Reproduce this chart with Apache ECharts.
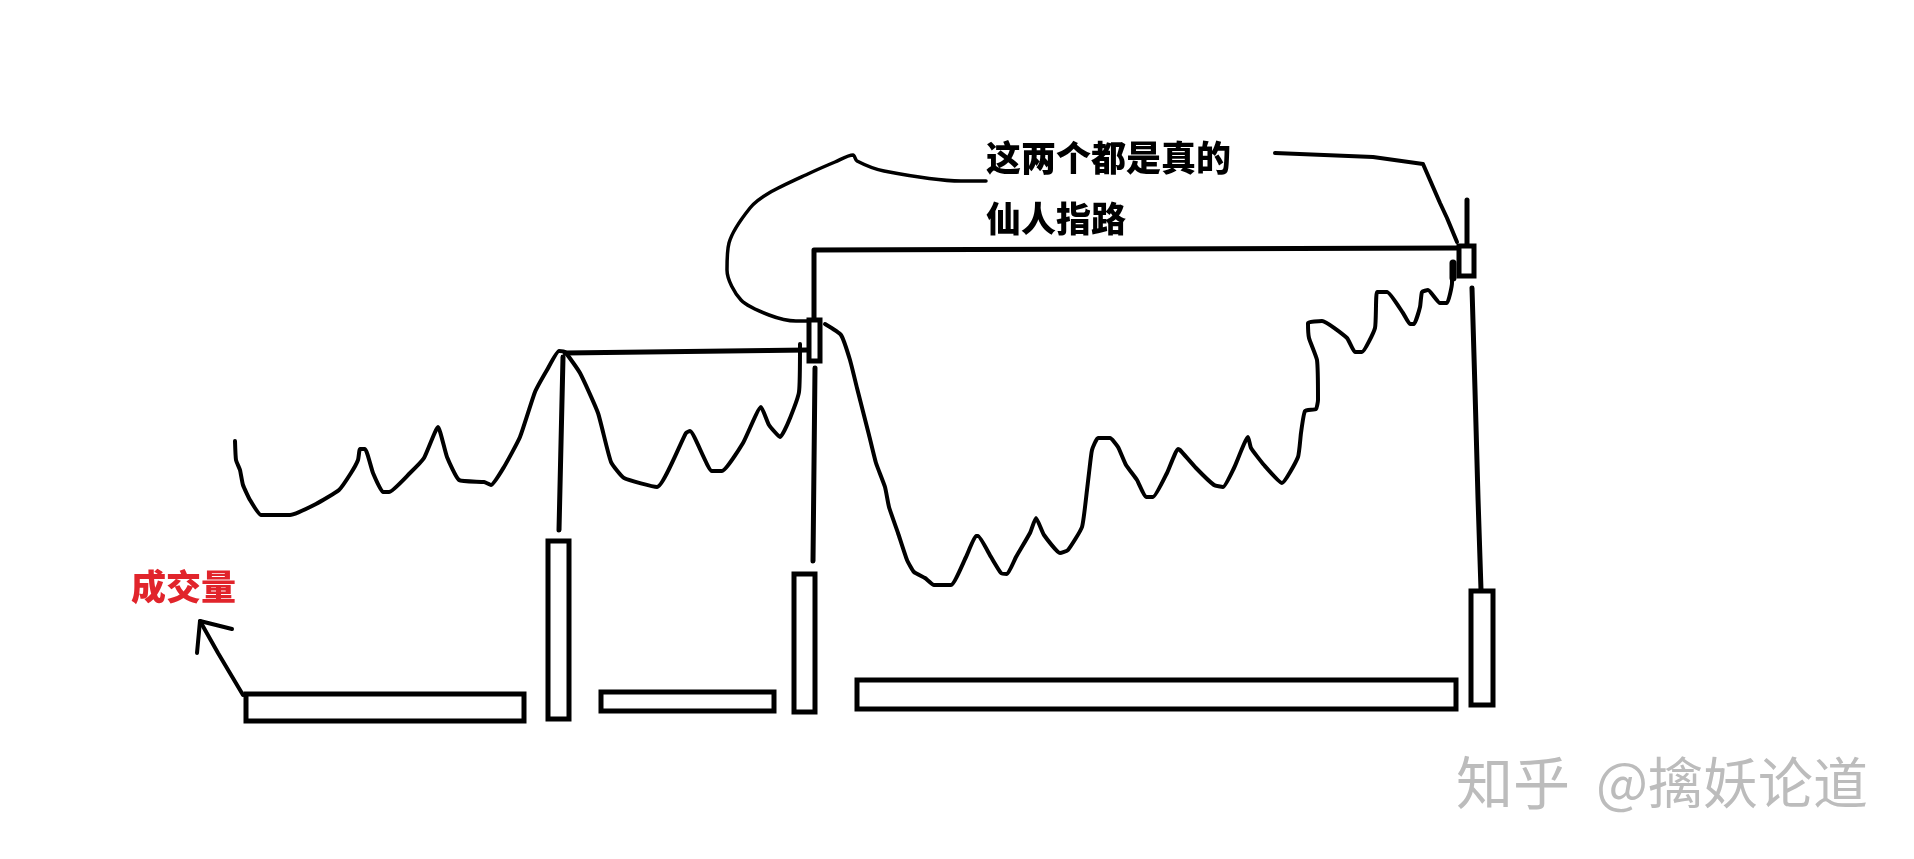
<!DOCTYPE html>
<html>
<head>
<meta charset="utf-8">
<title>仙人指路</title>
<style>
html, body { margin: 0; padding: 0; background: #fff; }
#main { width: 1914px; height: 859px; }
</style>
<script src="https://cdn.jsdelivr.net/npm/echarts@6/dist/echarts.min.js"></script>
</head>
<body>
<div id="main"></div>
<script>
// everything, axis units = sketch pixels
var priceLeft = [[235,441],[236,460],[240,470],[243,485],[250,500],[261,515],[290,515],[316,504],[339,490],[351,473],[358,460],[360,449],[365,449],[373,473],[383,492],[389,492],[410,473],[424,458],[438,427],[447,457],[459,480],[484,482],[491,485],[504,467],[520,437],[535,392],[547,370],[559,351],[565,352],[580,373],[598,413],[611,462],[624,478],[657,487],[686,433],[690,431],[712,471],[722,471],[743,443],[761,407],[769,425],[780,437],[799,392],[800,344]];
var priceRight = [[825,324],[841,335],[850,360],[857,388],[869,435],[876,463],[885,487],[889,507],[898,533],[907,560],[914,572],[925,578],[934,585],[951,585],[966,557],[976,536],[978,536],[991,557],[1001,573],[1007,574],[1016,557],[1030,533],[1036,518],[1044,535],[1060,553],[1068,550],[1082,527],[1087,490],[1089,473],[1092,450],[1098,438],[1110,438],[1118,447],[1126,465],[1137,480],[1146,497],[1153,497],[1167,473],[1178,449],[1180,450],[1196,468],[1214,485],[1223,487],[1234,468],[1248,437],[1251,448],[1264,465],[1282,483],[1298,457],[1301,433],[1305,411],[1316,409],[1318,400],[1317,360],[1309,338],[1308,323],[1322,321],[1347,338],[1355,352],[1362,352],[1375,328],[1377,292],[1387,292],[1403,313],[1410,324],[1414,324],[1420,307],[1422,292],[1428,290],[1440,303],[1447,303],[1452,283],[1452,263]];
var calloutLeft = [[986,181],[961,181],[884,171],[857,161],[853,155],[835,162],[810,173],[769,193],[750,208],[729,243],[727,270],[741,300],[769,315],[796,321],[808,321]];
var calloutRight = [[1275,153],[1373,157],[1423,164],[1440,203],[1447,218],[1457,242]];
var arrowShaft = [[243,695],[218,653],[200,621]];
var arrowHead = [[197,653],[200,621],[232,629]];

var guideLines = [
    [[565,353],[808,350]],
    [[563,357],[559,530]],
    [[814,318],[814,250],[1457,248]],
    [[815,368],[813,561]],
    [[1467,200],[1467,244]],
    [[1472,288],[1475,390],[1478,498],[1481,590]]
];
var thickStub = [[1453,263],[1453,278]];

// [left, right, top, bottom]
var volumeBars = [
    [246,524,694,721],
    [548,569,541,719],
    [601,774,692,711],
    [794,815,574,712],
    [857,1456,680,709],
    [1471,1493,591,705]
];
var candles = [
    [809,820,320,361],
    [1459,1474,246,276]
];

var labels = [
    { text: '这两个都是真的', pos: [986,158], color: '#000', size: 35, weight: '900' },
    { text: '仙人指路', pos: [986,219], color: '#000', size: 35, weight: '900' },
    { text: '成交量', pos: [131,587], color: '#e1242b', size: 35, weight: '900' },
    { text: '知乎', pos: [1456,782], color: '#bcbcbc', size: 57, weight: 'normal' },
    { text: '@擒妖论道', pos: [1596,782], color: '#bcbcbc', size: 55, weight: 'normal' }
];

function lineSeries(points, width, smooth) {
    return {
        type: 'line',
        data: points,
        showSymbol: false,
        symbol: 'none',
        smooth: smooth || false,
        clip: false,
        silent: true,
        lineStyle: { color: '#000', width: width, cap: 'round', join: 'round' }
    };
}

function rectSeries(rects, width) {
    return {
        type: 'custom',
        data: rects,
        silent: true,
        clip: false,
        encode: { x: [0, 1], y: [2, 3] },
        renderItem: function (params, api) {
            var a = api.coord([api.value(0), api.value(2)]);
            var b = api.coord([api.value(1), api.value(3)]);
            return {
                type: 'rect',
                shape: { x: a[0], y: a[1], width: b[0] - a[0], height: b[1] - a[1] },
                style: { fill: '#fff', stroke: '#000', lineWidth: width }
            };
        }
    };
}

var series = [
    lineSeries(priceLeft, 4, 0.15),
    lineSeries(priceRight, 4, 0.15),
    lineSeries(calloutLeft, 3.5, 0.3),
    lineSeries(calloutRight, 4),
    lineSeries(arrowShaft, 4),
    lineSeries(arrowHead, 4),
    lineSeries(thickStub, 7)
];
guideLines.forEach(function (g) {
    series.push(lineSeries(g, 5));
});
series.push(rectSeries(volumeBars, 5));
series.push(rectSeries(candles, 5));
series.push({
    type: 'custom',
    silent: true,
    clip: false,
    data: labels.map(function (l) { return l.pos; }),
    renderItem: function (params, api) {
        var l = labels[params.dataIndex];
        var p = api.coord([api.value(0), api.value(1)]);
        return {
            type: 'text',
            x: p[0],
            y: p[1],
            style: {
                text: l.text,
                fill: l.color,
                font: l.weight + ' ' + l.size + 'px "Noto Sans CJK SC"',
                align: 'left',
                verticalAlign: 'middle'
            }
        };
    }
});

var chart = echarts.init(document.getElementById('main'));
chart.setOption({
    animation: false,
    backgroundColor: '#fff',
    grid: { left: 0, right: 0, top: 0, bottom: 0 },
    xAxis: { type: 'value', min: 0, max: 1914, show: false },
    yAxis: { type: 'value', min: 0, max: 859, inverse: true, show: false },
    series: series
});
</script>
</body>
</html>
